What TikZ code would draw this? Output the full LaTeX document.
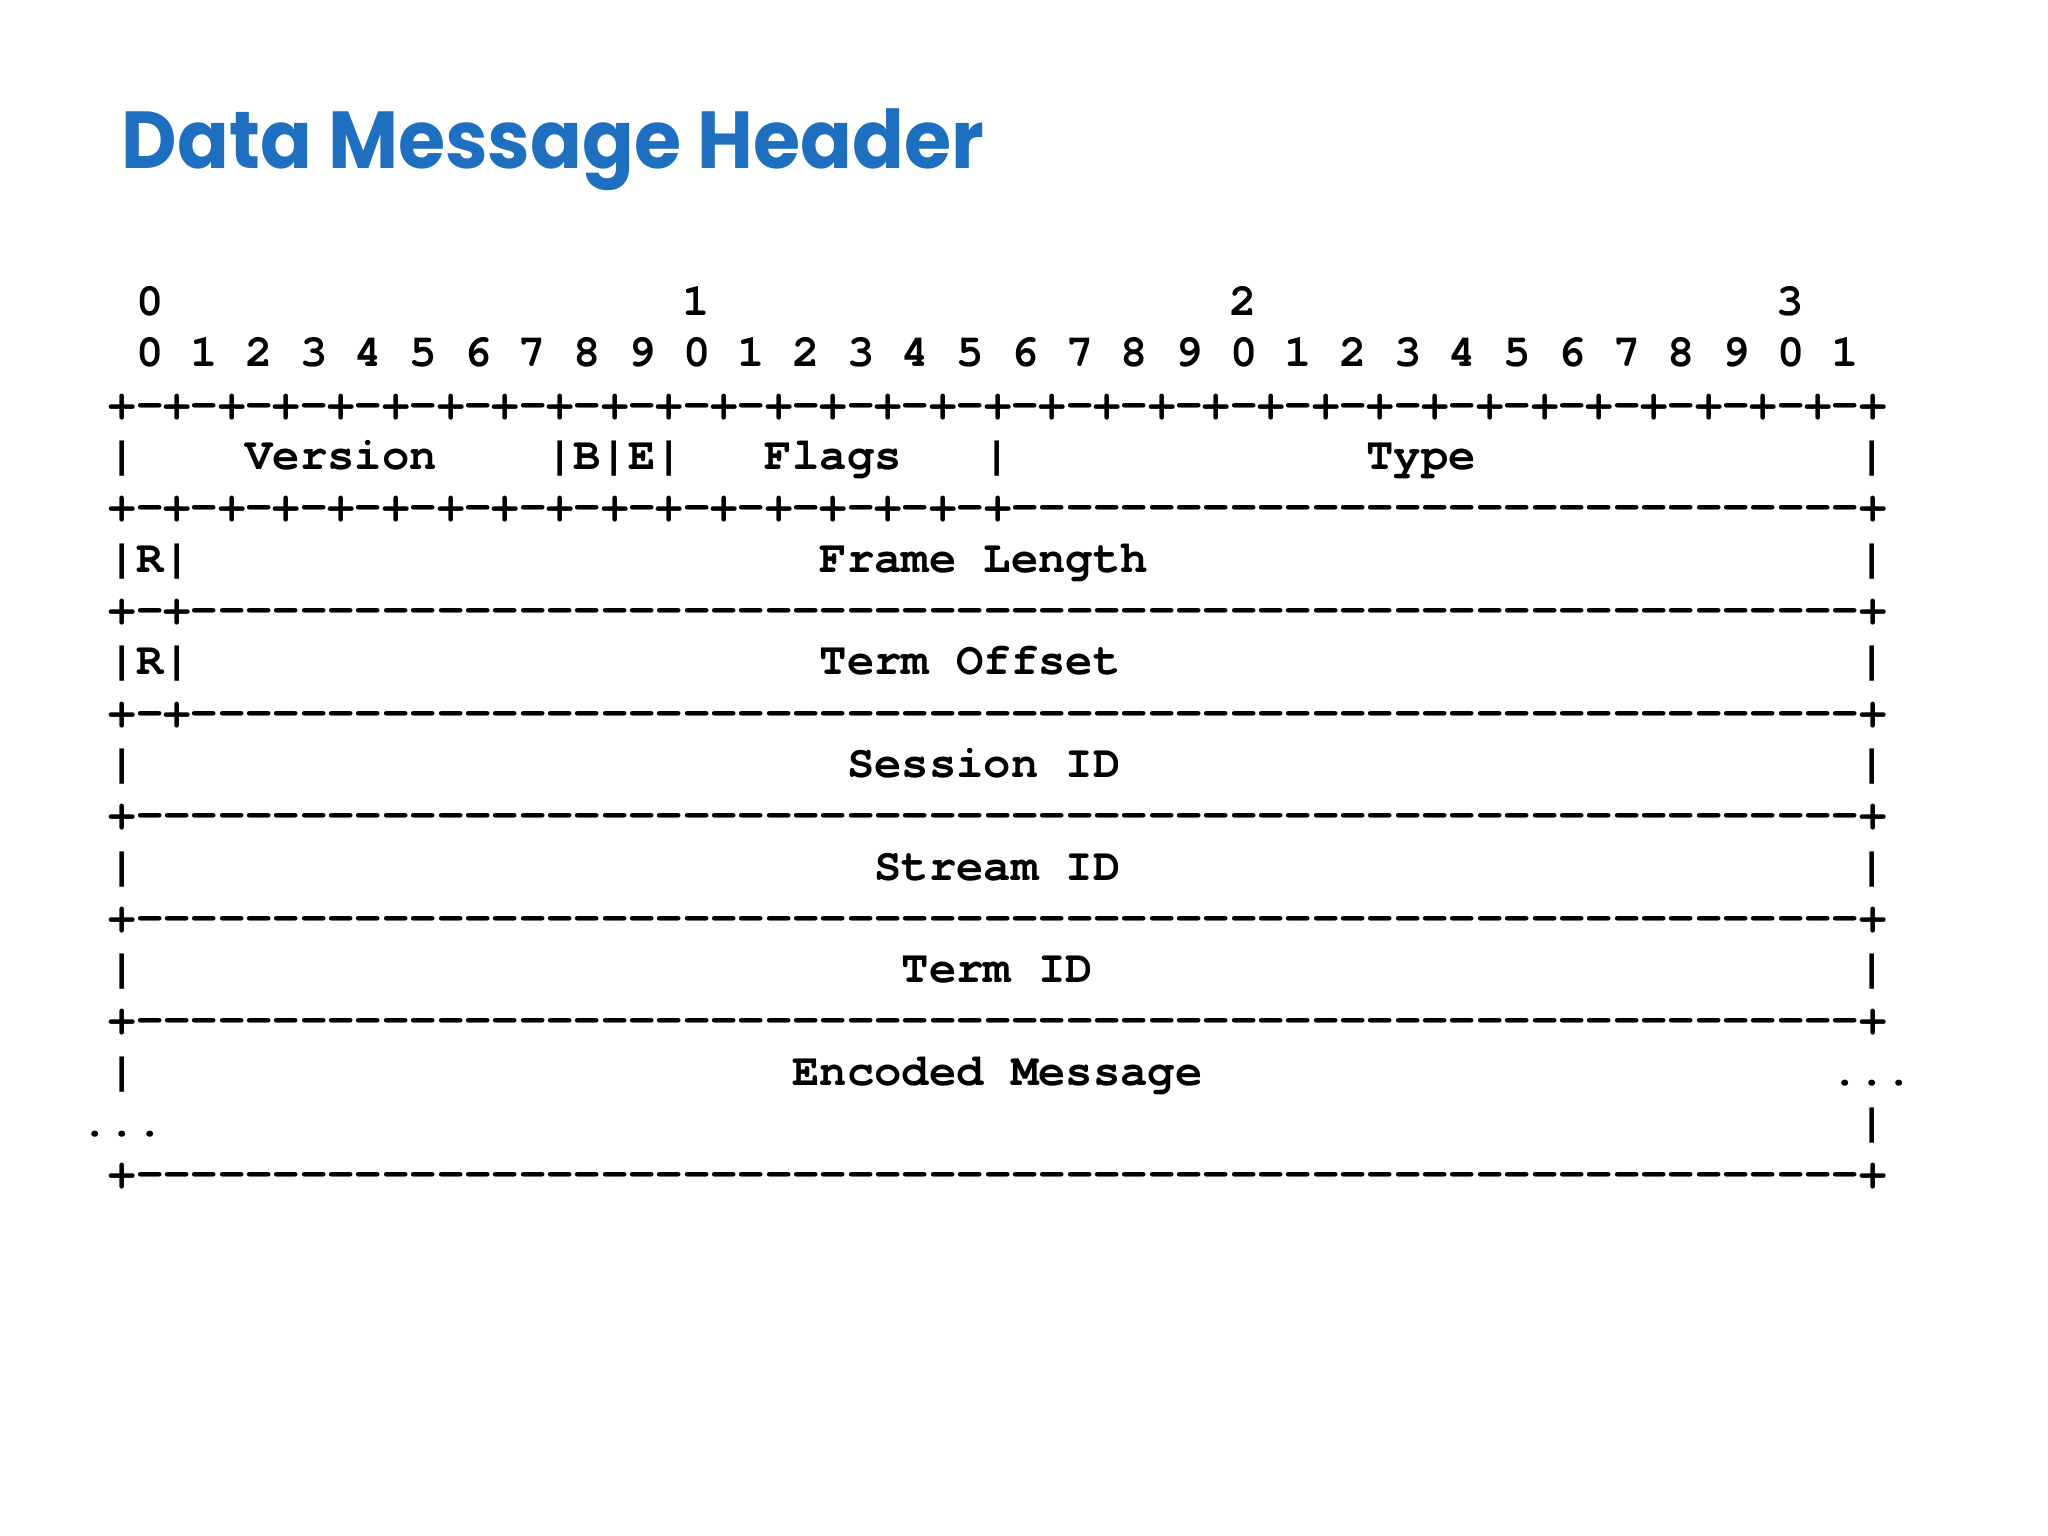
\documentclass[tikz,border=0pt]{standalone}
\usepackage{fontspec}
\newfontfamily\titlefont{Poppins}[FakeStretch=0.945]
\newfontfamily\bitfont{texgyrecursor-bold.otf}[Ligatures={TeXOff,NoCommon}]
\definecolor{titleblue}{RGB}{31,111,192}
\newcommand{\reps}[2]{\foreach \rr in {1,...,#1}{#2}}

\begin{document}
\begin{tikzpicture}[
    bits/.style={anchor=base west, inner sep=0pt, outer sep=0pt,
      font=\bitfont\fontsize{12.97pt}{13pt}\selectfont},
    heading/.style={anchor=base west, inner sep=0pt, text=titleblue,
      font=\titlefont\bfseries\fontsize{23pt}{23pt}\selectfont}
  ]
  \useasboundingbox (0,0) rectangle (20.48,-15.36);
  \node[heading] (title) at (1.21,-1.683) {Data Message Header};

  % bit layout, one column per character
  \begin{scope}[shift={(1.088,-3.157)}, x=0.2734cm, y=-0.513cm]
    \node[bits] (tens0) at (1,0) {0};
    \node[bits] (tens1) at (21,0) {1};
    \node[bits] (tens2) at (41,0) {2};
    \node[bits] (tens3) at (61,0) {3};
    \node[bits] (units) at (1,1) {0 1 2 3 4 5 6 7 8 9 0 1 2 3 4 5 6 7 8 9 0 1 2 3 4 5 6 7 8 9 0 1};
    \node[bits] (rule0) at (0,2) {\reps{32}{+-}+};

    \node[bits] (bar0) at (0,3) {|};
    \node[bits] (version) at (5,3) {Version};
    \node[bits] (beflag) at (16,3) {|B|E|};
    \node[bits] (flags) at (24,3) {Flags};
    \node[bits] (bar1) at (32,3) {|};
    \node[bits] (type) at (46,3) {Type};
    \node[bits] (bar2) at (64,3) {|};
    \node[bits] (rule1) at (0,4) {\reps{16}{+-}+\reps{31}{-}+};

    \node[bits] (res1) at (0,5) {|R|};
    \node[bits] (framelen) at (26,5) {Frame Length};
    \node[bits] (bar3) at (64,5) {|};
    \node[bits] (rule2) at (0,6) {+-+\reps{61}{-}+};

    \node[bits] (res2) at (0,7) {|R|};
    \node[bits] (termoff) at (26,7) {Term Offset};
    \node[bits] (bar4) at (64,7) {|};
    \node[bits] (rule3) at (0,8) {+-+\reps{61}{-}+};

    \node[bits] (bar5) at (0,9) {|};
    \node[bits] (session) at (27,9) {Session ID};
    \node[bits] (bar6) at (64,9) {|};
    \node[bits] (rule4) at (0,10) {+\reps{63}{-}+};

    \node[bits] (bar7) at (0,11) {|};
    \node[bits] (stream) at (28,11) {Stream ID};
    \node[bits] (bar8) at (64,11) {|};
    \node[bits] (rule5) at (0,12) {+\reps{63}{-}+};

    \node[bits] (bar9) at (0,13) {|};
    \node[bits] (termid) at (29,13) {Term ID};
    \node[bits] (bar10) at (64,13) {|};
    \node[bits] (rule6) at (0,14) {+\reps{63}{-}+};

    \node[bits] (bar11) at (0,15) {|};
    \node[bits] (encoded) at (25,15) {Encoded Message};
    \node[bits] (more1) at (63,15) {...};
    \node[bits] (more2) at (-1,16) {...};
    \node[bits] (bar12) at (64,16) {|};
    \node[bits] (rule7) at (0,17) {+\reps{63}{-}+};
  \end{scope}
\end{tikzpicture}
\end{document}
